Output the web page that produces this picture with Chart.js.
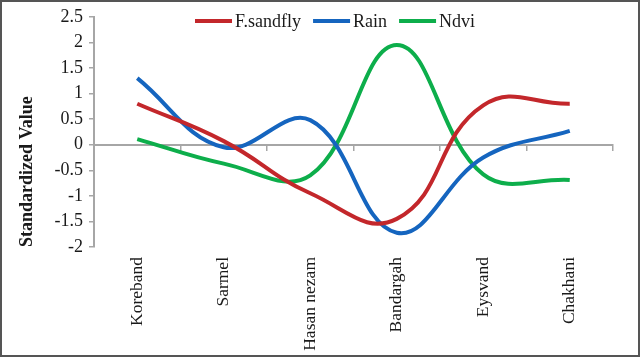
<!DOCTYPE html>
<html>
<head>
<meta charset="utf-8">
<script src="https://cdn.jsdelivr.net/npm/chart.js@4/dist/chart.umd.min.js"></script>
<style>
  html, body { margin: 0; padding: 0; background: #fff; }
  #wrap { width: 640px; height: 357px; position: relative; }
</style>
</head>
<body>
<div id="wrap"><canvas id="c" width="640" height="357"></canvas></div>
<script>
const categories = ['Koreband', 'Sarmel', 'Hasan nezam', 'Bandargah', 'Eysvand', 'Chakhani'];
const fSandfly = [0.8, 0.07, -0.95, -1.45, 0.77, 0.8];
const rain = [1.3, -0.05, 0.48, -1.72, -0.25, 0.27];
const ndvi = [0.11, -0.37, -0.6, 1.95, -0.58, -0.69];
const seriesNames = ['F.sandfly', 'Rain', 'Ndvi'];
const seriesColors = ['#C3272B', '#1565BF', '#0DAE4B'];
const yTicks = { min: -2, max: 2.5, step: 0.5 };

const FONT = 'Liberation Serif';
const TXT = '#1a1a1a';
const AXIS = '#a6a6a6';

// Legend drawn at top over the plot, like the original; frame around the picture.
const decorPlugin = {
  id: 'decor',
  afterDraw(chart) {
    const ctx = chart.ctx;
    ctx.save();
    ctx.font = '18px "' + FONT + '"';
    ctx.textBaseline = 'middle';
    ctx.textAlign = 'left';
    let x = 195;
    const y = 21;
    chart.data.datasets.forEach((ds) => {
      ctx.strokeStyle = ds.borderColor;
      ctx.lineWidth = 4;
      ctx.lineCap = 'butt';
      ctx.beginPath();
      ctx.moveTo(x, y);
      ctx.lineTo(x + 37, y);
      ctx.stroke();
      x += 40;
      ctx.fillStyle = TXT;
      ctx.fillText(ds.label, x, y + 1);
      x += ctx.measureText(ds.label).width + 12;
    });
    ctx.strokeStyle = '#555555';
    ctx.lineWidth = 2;
    ctx.strokeRect(1, 1, chart.width - 2, chart.height - 2);
    ctx.restore();
  }
};

new Chart(document.getElementById('c'), {
  type: 'line',
  data: {
    labels: categories,
    datasets: [
      { label: seriesNames[0], data: fSandfly, borderColor: seriesColors[0], backgroundColor: seriesColors[0], tension: 0.45 },
      { label: seriesNames[1], data: rain, borderColor: seriesColors[1], backgroundColor: seriesColors[1] },
      { label: seriesNames[2], data: ndvi, borderColor: seriesColors[2], backgroundColor: seriesColors[2] }
    ]
  },
  options: {
    responsive: false,
    animation: false,
    devicePixelRatio: 1,
    layout: { padding: { top: 11, right: 27, bottom: 0, left: 0 } },
    elements: {
      line: { borderWidth: 4, tension: 0.4, fill: false },
      point: { radius: 0, hoverRadius: 0 }
    },
    plugins: {
      tooltip: { enabled: false },
      legend: { display: false }
    },
    scales: {
      x: {
        type: 'category',
        position: 'bottom',
        offset: true,
        grid: { display: false, drawTicks: false },
        border: { display: false },
        ticks: {
          minRotation: 90, maxRotation: 90, autoSkip: false, padding: 10,
          color: TXT, font: { family: FONT, size: 17.5 }
        },
        afterFit(scale) { scale.height = 110; }
      },
      xz: {
        type: 'category',
        position: { y: 0 },
        offset: true,
        grid: { display: true, drawOnChartArea: false, drawTicks: true, tickLength: 5, color: AXIS, lineWidth: 1.5, offset: true },
        border: { display: true, color: AXIS, width: 2 },
        ticks: { display: false }
      },
      y: {
        position: 'left',
        min: yTicks.min,
        max: yTicks.max,
        grid: { display: true, drawOnChartArea: false, drawTicks: true, tickLength: 5, color: AXIS, lineWidth: 1.5 },
        border: { display: true, color: AXIS, width: 2 },
        ticks: {
          stepSize: yTicks.step, padding: 6, color: TXT,
          font: { family: FONT, size: 18 },
          callback: (v) => String(Math.round(v * 10) / 10)
        },
        title: {
          display: true, text: 'Standardized Value', align: 'start',
          color: TXT, font: { family: FONT, size: 18, weight: 'bold' },
          padding: { top: 17, bottom: 0 }
        },
        afterFit(scale) { scale.width = 94; }
      }
    }
  },
  plugins: [decorPlugin]
});
</script>
</body>
</html>
